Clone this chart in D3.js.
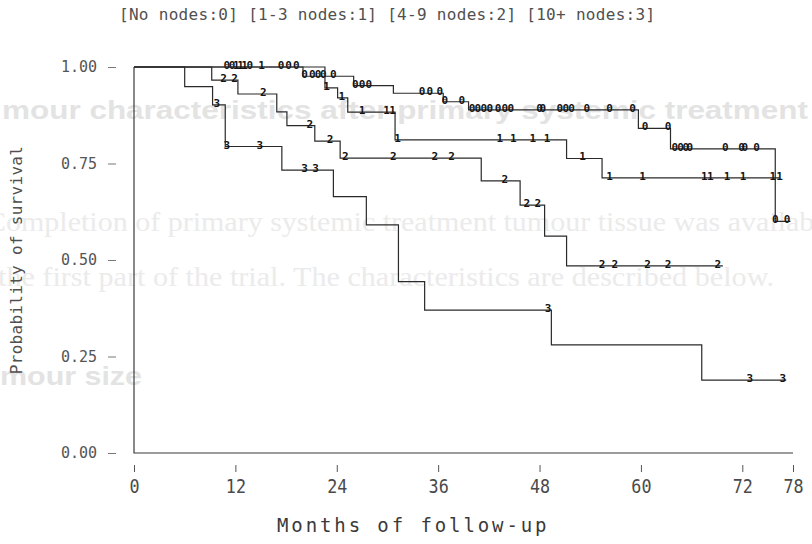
<!DOCTYPE html>
<html>
<head>
<meta charset="utf-8">
<script src="https://cdn.jsdelivr.net/npm/d3@7/dist/d3.min.js"></script>
<style>
  html, body { margin: 0; padding: 0; background: #ffffff; }
  svg { display: block; }
</style>
</head>
<body>
<svg id="chart" width="812" height="544"></svg>
<script>
// Kaplan-Meier survival by number of involved nodes
const titleText = "[No nodes:0] [1-3 nodes:1] [4-9 nodes:2] [10+ nodes:3]";
const groupCodes = ["0", "1", "2", "3"];

// event times (months) where each curve steps, and survival after each step
const times0 = [0, 20.0, 26.0, 30.7, 36.6, 39.6, 59.7, 63.5, 75.9];
const surv0  = [1.0, 0.976, 0.952, 0.932, 0.910, 0.889, 0.841, 0.788, 0.600];
const end0 = 77.7;
const censor0 = [11.0, 11.6, 13.7, 17.4, 18.3, 19.2, 20.2, 21.1, 21.8, 22.4, 23.6,
  26.2, 27.0, 27.8, 34.1, 35.0, 36.2, 36.8, 38.8, 40.0, 40.7, 41.4, 42.1, 43.1,
  43.9, 44.6, 48.0, 48.4, 50.4, 51.1, 51.8, 53.6, 56.3, 59.0, 60.5, 63.2, 64.0,
  64.7, 65.3, 65.8, 70.0, 71.9, 72.3, 73.7, 75.9, 77.3];

const times1 = [0, 22.6, 24.1, 25.3, 30.9, 51.2, 55.4];
const surv1  = [1.0, 0.946, 0.920, 0.883, 0.811, 0.763, 0.713];
const end1 = 76.4;
const censor1 = [12.1, 12.6, 13.1, 15.1, 22.8, 24.6, 27.0, 29.9, 30.6, 31.2, 43.3,
  44.9, 47.2, 48.9, 53.1, 56.3, 60.2, 67.5, 68.2, 70.2, 72.1, 75.6, 76.4];

const times2 = [0, 9.2, 12.3, 16.9, 18.1, 21.4, 24.4, 41.1, 45.7, 48.6, 51.2];
const surv2  = [1.0, 0.966, 0.930, 0.884, 0.848, 0.808, 0.764, 0.705, 0.642, 0.562, 0.485];
const end2 = 69.7;
const censor2 = [10.6, 11.9, 15.3, 20.8, 23.2, 25.0, 30.7, 35.6, 37.6, 43.9, 46.5,
  47.8, 55.4, 56.9, 60.8, 63.2, 69.1];

const times3 = [0, 6.0, 9.3, 10.8, 17.5, 23.6, 27.5, 31.3, 34.4, 49.4, 67.2];
const surv3  = [1.0, 0.949, 0.902, 0.794, 0.733, 0.664, 0.591, 0.444, 0.370, 0.280, 0.189];
const end3 = 77.2;
const censor3 = [9.8, 11.0, 14.9, 20.2, 21.5, 49.0, 72.9, 76.8];

const xTicks = [0, 12, 24, 36, 48, 60, 72, 78];
const yTicks = [0, 0.25, 0.5, 0.75, 1.0];
const xTitle = "Months of follow-up";
const yTitle = "Probability of survival";

// faint show-through text of the printed page underneath
const pageLines = [
  { text: "mour characteristics after primary systemic treatment", bold: true },
  { text: "Completion of primary systemic treatment tumour tissue was available", bold: false },
  { text: "the first part of the trial. The characteristics are described below.", bold: false },
  { text: "mour size", bold: true }
];

const series = [
  { code: groupCodes[0], times: times0, surv: surv0, end: end0, censor: censor0 },
  { code: groupCodes[1], times: times1, surv: surv1, end: end1, censor: censor1 },
  { code: groupCodes[2], times: times2, surv: surv2, end: end2, censor: censor2 },
  { code: groupCodes[3], times: times3, surv: surv3, end: end3, censor: censor3 }
];

const svg = d3.select("#chart");
const mono = "'DejaVu Sans Mono', 'Liberation Mono', monospace";

// page show-through, drawn first so it sits behind the plot
const pageLayout = [
  { x: 2, y: 119, len: 806, size: 26 },
  { x: -14, y: 231, len: 850, size: 27 },
  { x: -2, y: 286, len: 776, size: 27 },
  { x: 0, y: 385, len: 142, size: 26 }
];
svg.append("g").selectAll("text")
  .data(pageLines)
  .join("text")
  .attr("x", (d, i) => pageLayout[i].x)
  .attr("y", (d, i) => pageLayout[i].y)
  .attr("textLength", (d, i) => pageLayout[i].len)
  .attr("lengthAdjust", "spacingAndGlyphs")
  .attr("font-family", d => d.bold ? "'Liberation Sans', Arial, sans-serif" : "'Liberation Serif', 'Times New Roman', serif")
  .attr("font-weight", d => d.bold ? "bold" : "normal")
  .attr("font-size", (d, i) => pageLayout[i].size)
  .attr("fill", d => d.bold ? "#e3e3e3" : "#ebebeb")
  .text(d => d.text);

const x = d3.scaleLinear().domain([0, 78]).range([134, 793]);
const y = d3.scaleLinear().domain([0, 1]).range([453, 67]);

// frame: left and bottom edges of the plotting region
svg.append("path")
  .attr("d", `M${x(0)},${y(1)}V${y(0)}H${x(78)}`)
  .attr("fill", "none")
  .attr("stroke", "#3a3a3a")
  .attr("stroke-width", 1.2);

// x axis sits a little below the frame
const xAxis = svg.append("g")
  .attr("transform", `translate(0,${y(0) + 12})`)
  .call(d3.axisBottom(x).tickValues(xTicks).tickSize(7).tickPadding(8).tickFormat(d3.format("d")));
xAxis.select(".domain").remove();
xAxis.selectAll(".tick line").attr("stroke", "#555");
xAxis.selectAll(".tick text")
  .attr("font-family", mono)
  .attr("font-size", 19)
  .attr("fill", "#4a4a4a")
  .attr("transform", "scale(0.88,1)");

// y axis offset to the left of the frame
const yAxis = svg.append("g")
  .attr("transform", `translate(${x(0) - 18},0)`)
  .call(d3.axisLeft(y).tickValues(yTicks).tickSize(8).tickPadding(11).tickFormat(d3.format(".2f")));
yAxis.select(".domain").remove();
yAxis.selectAll(".tick line").attr("stroke", "#777");
yAxis.selectAll(".tick text")
  .attr("font-family", mono)
  .attr("font-size", 15)
  .attr("fill", "#555");

// survival step curves
const stepLine = d3.line()
  .x(d => x(d[0]))
  .y(d => y(d[1]))
  .curve(d3.curveStepAfter);

const survAt = (s, t) => s.surv[Math.max(0, d3.bisectRight(s.times, t) - 1)];

const groups = svg.append("g").selectAll("g")
  .data(series)
  .join("g");

groups.append("path")
  .attr("d", s => stepLine(s.times.map((t, i) => [t, s.surv[i]]).concat([[s.end, s.surv[s.surv.length - 1]]])))
  .attr("fill", "none")
  .attr("stroke", "#2a2a2a")
  .attr("stroke-width", 1.2);

// censored observations, marked with the group code
groups.selectAll("text")
  .data(s => s.censor.map(t => ({ t, v: survAt(s, t), code: s.code })))
  .join("text")
  .attr("x", d => x(d.t))
  .attr("y", d => y(d.v) + 2)
  .attr("text-anchor", "middle")
  .attr("font-family", mono)
  .attr("font-size", 11)
  .attr("font-weight", "bold")
  .attr("fill", "#151515")
  .text(d => d.code);

// titles
svg.append("text")
  .attr("x", 119)
  .attr("y", 20)
  .attr("font-family", mono)
  .attr("font-size", 16)
  .attr("letter-spacing", 0.3)
  .attr("fill", "#505050")
  .text(titleText);

svg.append("text")
  .attr("transform", `translate(22,${(y(0) + y(1)) / 2}) rotate(-90)`)
  .attr("text-anchor", "middle")
  .attr("font-family", mono)
  .attr("font-size", 16)
  .attr("letter-spacing", 0.3)
  .attr("fill", "#505050")
  .text(yTitle);

svg.append("text")
  .attr("x", 277)
  .attr("y", 532)
  .attr("font-family", mono)
  .attr("font-size", 19)
  .attr("letter-spacing", 2.9)
  .attr("fill", "#3a3a3a")
  .text(xTitle);
</script>
</body>
</html>
